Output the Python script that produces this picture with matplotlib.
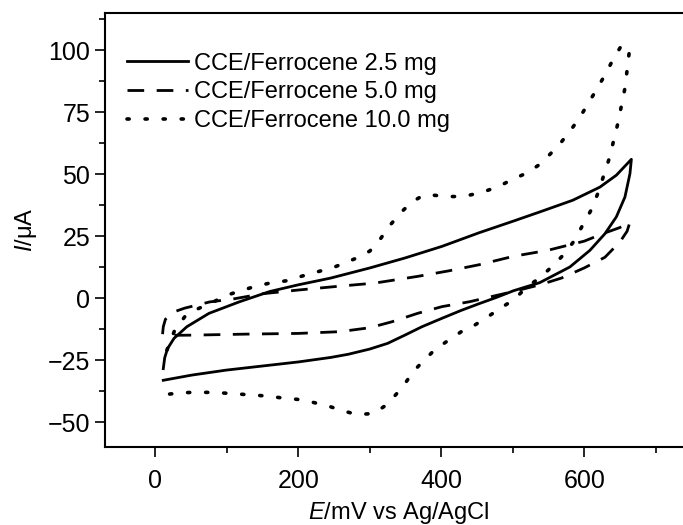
import matplotlib
matplotlib.use("Agg")
import matplotlib.pyplot as plt
from matplotlib.ticker import MultipleLocator

plt.rcParams['font.family'] = ['Liberation Sans', 'DejaVu Sans']
plt.rcParams['mathtext.fontset'] = 'custom'
plt.rcParams['mathtext.rm'] = 'Liberation Sans'
plt.rcParams['mathtext.it'] = 'Liberation Sans:italic'

# CCE/Ferrocene 2.5 mg  (forward then reverse scan)
e_25 = [11, 13, 17, 26, 44, 75, 118, 160, 200, 245, 300, 349, 401, 453, 501, 538, 584, 622, 645, 666,
        664, 657, 645, 629, 608, 580, 538, 501, 477, 453, 428, 401, 373, 349, 325, 300, 270, 245, 200, 148, 99, 51, 11]
i_25 = [-28.4, -24.0, -20.3, -16.2, -11.5, -6.1, -1.4, 2.7, 5.4, 8.1, 12.2, 16.2, 20.9, 26.4, 31.1, 34.8, 39.5, 44.8, 49.6, 56.0,
        50.2, 40.8, 32.8, 26.0, 19.3, 12.6, 6.3, 3.0, 0.3, -2.2, -4.9, -8.1, -11.5, -14.9, -18.2, -20.5, -22.6, -23.9, -25.7, -27.4, -29.0, -31.0, -33.1]

# CCE/Ferrocene 5.0 mg
e_50 = [10, 11, 14, 26, 41, 76, 109, 150, 200, 252, 307, 367, 410, 453, 501, 549, 600, 626, 650, 664,
        660, 650, 629, 600, 568, 538, 501, 471, 440, 401, 367, 331, 300, 258, 200, 124, 51, 12]
i_50 = [-14.5, -11.5, -8.5, -5.5, -4.0, -1.5, -0.3, 1.8, 3.3, 4.7, 6.1, 8.8, 11.0, 13.5, 16.9, 19.3, 23.0, 26.0, 28.5, 30.7,
        27.0, 22.7, 16.5, 12.2, 8.1, 5.4, 2.7, 0.7, -1.4, -3.4, -6.1, -9.5, -11.9, -13.5, -14.2, -14.5, -14.9, -15.0]

# CCE/Ferrocene 10.0 mg
e_100 = [16, 27, 41, 60, 81, 100, 118, 139, 160, 183, 200, 250, 280, 300, 315, 330, 345, 360, 375, 390, 410, 430, 455,
         480, 500, 520, 538, 552, 567, 581, 594, 606, 618, 630, 641, 653, 663,
         660, 657, 652, 647, 641, 635, 627, 619, 609, 597, 586, 571, 556, 538, 520, 501, 483, 465, 446, 428, 410, 392,
         376, 361, 350, 337, 323, 305, 282, 262, 241, 219, 199, 177, 154, 133, 110, 87, 63, 38, 15]
i_100 = [-21.0, -12.9, -7.5, -4.2, -1.5, 1.2, 2.9, 4.7, 6.1, 7.0, 8.5, 12.5, 16.0, 19.0, 24.0, 30.0, 35.0, 39.0, 41.5, 41.5, 41.0, 41.0, 42.5,
          45.0, 48.0, 50.5, 54.0, 58.0, 62.6, 67.7, 73.0, 78.7, 84.5, 90.5, 96.6, 102.3, 99.2,
          91.9, 84.7, 77.5, 70.4, 63.3, 56.3, 49.2, 42.2, 35.2, 29.0, 23.1, 17.5, 13.0, 8.3, 4.5, -0.7, -4.0, -7.5, -11.0, -13.5, -17.0, -20.5,
          -25.0, -29.5, -34.1, -38.7, -43.1, -46.5, -46.9, -45.4, -43.4, -41.9, -40.8, -40.2, -39.4, -39.0, -38.5, -38.1, -37.9, -38.1, -38.8]

labels = ['CCE/Ferrocene 2.5 mg', 'CCE/Ferrocene 5.0 mg', 'CCE/Ferrocene 10.0 mg']

fig = plt.figure(figsize=(6.83, 5.25), dpi=100)
ax = fig.add_axes([105.4 / 683, 78 / 525, 586 / 683, 434 / 525])

ax.plot(e_25, i_25, color='black', lw=2.0, ls='-', label=labels[0])
ax.plot(e_50, i_50, color='black', lw=2.0, ls=(0, (6, 4.5)), label=labels[1])
ax.plot(e_100, i_100, color='black', lw=2.6, ls=(0, (0.6, 4.4)), dash_capstyle='round', label=labels[2])

ax.set_xlim(-70, 750)
ax.set_ylim(-60, 115)
ax.xaxis.set_major_locator(MultipleLocator(200))
ax.xaxis.set_minor_locator(MultipleLocator(100))
ax.yaxis.set_major_locator(MultipleLocator(25))
ax.yaxis.set_minor_locator(MultipleLocator(12.5))
ax.tick_params(which='both', direction='out', labelsize=18, width=1.2, top=False, right=False)
ax.tick_params(which='major', length=7)
ax.tick_params(axis='x', which='major', pad=9)
ax.tick_params(axis='y', which='major', pad=4)
ax.tick_params(which='minor', length=4)
for s in ax.spines.values():
    s.set_linewidth(1.5)

ax.set_xlabel(r'$\it{E}$/mV vs Ag/AgCl', fontsize=17, labelpad=5)
ax.set_ylabel(r'$\it{I}$/μA', fontsize=17, labelpad=6)

ax.legend(loc='upper left', frameon=False, fontsize=17, handlelength=2.6, handletextpad=0.25,
          labelspacing=0.29, borderaxespad=0.3, bbox_to_anchor=(0.008, 0.947))

fig.savefig('out.png', dpi=100)
